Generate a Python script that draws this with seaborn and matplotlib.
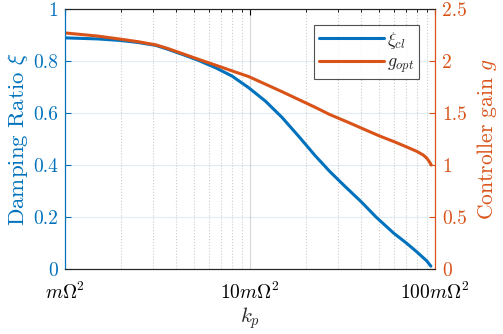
import numpy as np
import pandas as pd
import matplotlib
matplotlib.use("Agg")
import matplotlib.pyplot as plt
import seaborn as sns
from matplotlib.ticker import FixedLocator, LogLocator, NullFormatter

# ---- data ----
k_xi = [1, 1.5, 2, 2.5, 3.1, 3.6, 4.33, 5.2, 6.52, 8, 9.85, 12.15, 14.9, 18.3, 22.5, 27,
        32.6, 40, 48, 60, 70, 80, 90, 95]
xi_cl = [0.889, 0.885, 0.879, 0.871, 0.860, 0.845, 0.825, 0.804, 0.774, 0.742, 0.697, 0.645,
         0.583, 0.511, 0.436, 0.375, 0.318, 0.258, 0.200, 0.137, 0.100, 0.065, 0.032, 0.011]
k_g = [1, 1.5, 2, 2.5, 3.1, 3.6, 4.33, 5.2, 6.52, 8, 9.85, 14.9, 22.5, 27, 34, 40, 50, 60,
       70, 80, 86.5, 90, 93, 95.5]
g_opt = [2.27, 2.24, 2.21, 2.185, 2.155, 2.12, 2.07, 2.02, 1.96, 1.905, 1.85, 1.705, 1.555,
         1.485, 1.41, 1.355, 1.28, 1.225, 1.175, 1.13, 1.095, 1.068, 1.035, 1.00]
xticks = [1, 10, 100]
xticklabels = [r"$m\Omega^2$", r"$10m\Omega^2$", r"$100m\Omega^2$"]
yticks_left = [0, 0.2, 0.4, 0.6, 0.8, 1]
yticks_right = [0, 0.5, 1, 1.5, 2, 2.5]

blue = "#0072BD"
orange = "#D95319"

sns.set_style("white")
plt.rcParams["font.family"] = ["serif"]
plt.rcParams["font.serif"] = ["cmr10", "DejaVu Serif"]
plt.rcParams["mathtext.fontset"] = "cm"
plt.rcParams["axes.formatter.use_mathtext"] = True

df_xi = pd.DataFrame({"k": k_xi, "v": xi_cl})
df_g = pd.DataFrame({"k": k_g, "v": g_opt})

fig = plt.figure(figsize=(5.03, 3.34), dpi=100)
ax = fig.add_axes([0.1292, 0.1946, 0.7356, 0.7784])
ax2 = ax.twinx()

sns.lineplot(data=df_xi, x="k", y="v", ax=ax, color=blue, lw=2.2, label=r"$\xi_{cl}$", legend=False)
sns.lineplot(data=df_g, x="k", y="v", ax=ax2, color=orange, lw=2.2, label=r"$g_{opt}$", legend=False)

ax.set_xscale("log")
ax.set_xlim(1, 100)
ax.set_ylim(0, 1)
ax2.set_ylim(0, 2.5)

ax.xaxis.set_major_locator(FixedLocator(xticks))
ax.set_xticklabels(xticklabels)
ax.xaxis.set_minor_locator(LogLocator(base=10, subs=np.arange(2, 10)))
ax.xaxis.set_minor_formatter(NullFormatter())
ax.set_yticks(yticks_left)
ax.set_yticklabels(["0", "0.2", "0.4", "0.6", "0.8", "1"])
ax2.set_yticks(yticks_right)
ax2.set_yticklabels(["0", "0.5", "1", "1.5", "2", "2.5"])

fs = 14
ax.tick_params(axis="x", which="both", direction="in", top=True, labelsize=fs, colors="black", pad=9)
ax.tick_params(axis="x", which="major", length=4)
ax.tick_params(axis="x", which="minor", length=2.5)
ax.tick_params(axis="y", direction="in", colors=blue, labelsize=fs, length=4, pad=5)
ax2.tick_params(axis="y", direction="in", colors=orange, labelsize=fs, length=4, pad=5)

ax.set_xlabel(r"$k_p$", fontsize=fs + 1, labelpad=2)
ax.set_ylabel(r"Damping Ratio $\xi$", fontsize=fs + 2.5, color=blue, labelpad=2)
ax2.set_ylabel(r"Controller gain $g$", fontsize=fs + 1.5, color=orange, labelpad=6)

# grid
ax.grid(True, which="major", axis="y", color=blue, alpha=0.12, lw=0.8)
ax.grid(True, which="major", axis="x", color="#b0b0b0", alpha=0.5, lw=0.8)
ax.grid(True, which="minor", axis="x", color="#b8b8b8", ls=":", lw=0.8, alpha=0.7)
ax.set_axisbelow(True)

for s in ["top", "bottom"]:
    ax.spines[s].set_color("#262626")
    ax.spines[s].set_linewidth(0.8)
ax.spines["left"].set_color(blue)
ax2.spines["left"].set_color(blue)
ax2.spines["right"].set_color(orange)
ax.spines["right"].set_color(orange)
ax2.spines["top"].set_color("#262626")
for s in ax2.spines.values():
    s.set_linewidth(0.8)

h1, l1 = ax.get_legend_handles_labels()
h2, l2 = ax2.get_legend_handles_labels()
leg = ax2.legend(h1 + h2, l1 + l2, loc="upper right", bbox_to_anchor=(0.957, 0.938),
                 borderaxespad=0, fontsize=13, handlelength=3.6, frameon=True, fancybox=False,
                 borderpad=0.25, labelspacing=0.2, handletextpad=0.2)
leg.get_frame().set_edgecolor("#262626")
leg.get_frame().set_linewidth(0.8)

fig.savefig("out.png", dpi=100)
